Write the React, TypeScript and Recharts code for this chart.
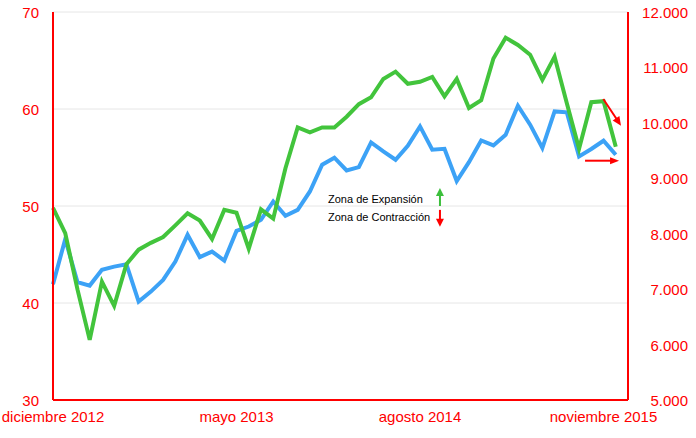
import React from 'react';
import { LineChart, Line, XAxis, YAxis, CartesianGrid, ReferenceLine, ReferenceDot } from 'recharts';

// Green series (left axis, 30-70)
const greenSeries = [
  49.8, 47.2, 41.4, 36.2, 42.2, 39.7, 44.0, 45.5, 46.2, 46.8, 48.0, 49.25, 48.5, 46.6, 49.6, 49.3,
  45.6, 49.65, 48.7, 53.9, 58.1, 57.6, 58.1, 58.1, 59.2, 60.5, 61.2, 63.1, 63.85, 62.6, 62.8, 63.3,
  61.3, 63.1, 60.1, 60.9, 65.2, 67.35, 66.6, 65.6, 63.0, 65.4, 60.6, 55.9, 60.7, 60.8, 56.1,
];

// Blue series (right axis, 5.000-12.000)
const blueSeries = [
  7090, 7900, 7127, 7064, 7348, 7407, 7450, 6775, 6956, 7167, 7498, 7980, 7577, 7678, 7516, 8050,
  8130, 8251, 8581, 8323, 8431, 8762, 9244, 9371, 9141, 9202, 9647, 9484, 9334, 9587, 9936, 9515,
  9533, 8950, 9290, 9683, 9593, 9786, 10310, 9967, 9546, 10207, 10189, 9394, 9528, 9677, 9425,
];

const xTickLabels = ['diciembre 2012', 'mayo 2013', 'agosto 2014', 'noviembre 2015'];
const xTickIndex = [0, 15, 30, 45];
const leftTicks = [30, 40, 50, 60, 70];
const rightTicks = [5000, 6000, 7000, 8000, 9000, 10000, 11000, 12000];

const zoneLabels = ['Zona de Expansión', 'Zona de Contracción'];
const zoneAnchor = { x: 22.48, y: 50 };
// annotation arrows in data units (left axis)
const upArrow = [{ x: 31.63, y: 50.0 }, { x: 31.63, y: 51.85 }];
const downArrow = [{ x: 31.63, y: 49.6 }, { x: 31.63, y: 47.85 }];
const endArrowDiag = [{ x: 44.98, y: 61.03 }, { x: 46.43, y: 58.28 }];
const endArrowFlat = [{ x: 43.49, y: 54.67 }, { x: 46.27, y: 54.67 }];

const data = greenSeries.map((g, i) => ({ i, green: g, blue: blueSeries[i] }));

const RED = '#ff0000';
const GREEN = '#42c43c';
const BLUE = '#3ca2f6';
const FONT = '"Liberation Sans", Arial, Helvetica, sans-serif';

const fmtThousands = (v: number) => {
  const s = String(Math.round(v));
  return s.replace(/\B(?=(\d{3})+(?!\d))/g, '.');
};

const LeftTick = (props: any) => {
  const { x, y, payload } = props;
  return (
    <text x={x - 14} y={y + 6} textAnchor="end" fill={RED} fontSize={15} fontFamily={FONT}>
      {payload.value}
    </text>
  );
};

const RightTick = (props: any) => {
  const { x, y, payload } = props;
  return (
    <text x={x + 60} y={y + 6} textAnchor="end" fill={RED} fontSize={15} fontFamily={FONT}>
      {fmtThousands(payload.value)}
    </text>
  );
};

const XTick = (props: any) => {
  const { x, y, payload } = props;
  const k = xTickIndex.indexOf(payload.value);
  return (
    <text x={x} y={y + 21.5} textAnchor="middle" fill={RED} fontSize={15} fontFamily={FONT}>
      {k >= 0 ? xTickLabels[k] : ''}
    </text>
  );
};

const makeArrow = (color: string, headLen: number, headW: number, sw: number) => (props: any) => {
  const { x1, y1, x2, y2 } = props;
  if ([x1, y1, x2, y2].some((v) => v === undefined || isNaN(v))) return null;
  const dx = x2 - x1;
  const dy = y2 - y1;
  const len = Math.sqrt(dx * dx + dy * dy) || 1;
  const ux = dx / len;
  const uy = dy / len;
  const bx = x2 - ux * headLen;
  const by = y2 - uy * headLen;
  const px = -uy * (headW / 2);
  const py = ux * (headW / 2);
  return (
    <g>
      <line x1={x1} y1={y1} x2={bx + ux * 1} y2={by + uy * 1} stroke={color} strokeWidth={sw} />
      <polygon points={`${x2},${y2} ${bx + px},${by + py} ${bx - px},${by - py}`} fill={color} />
    </g>
  );
};

const ZoneText = (props: any) => {
  const { cx, cy } = props;
  if (cx === undefined || cy === undefined) return null;
  return (
    <g>
      <text x={cx} y={cy - 3.5} fontSize={11} fontFamily={FONT} fill="#000">
        {zoneLabels[0]}
      </text>
      <text x={cx} y={cy + 14.5} fontSize={11} fontFamily={FONT} fill="#000">
        {zoneLabels[1]}
      </text>
    </g>
  );
};

export default function App() {
  return (
    <div style={{ position: 'absolute', left: 0, top: 0, width: 696, height: 438, background: '#fff' }}>
      <LineChart width={696} height={438} data={data} margin={{ top: 12, right: 0, bottom: 0, left: 0 }}>
        <CartesianGrid yAxisId="left" vertical={false} stroke="#e6e6e6" strokeWidth={1} />
        <XAxis
          dataKey="i"
          type="number"
          domain={[0, 47]}
          ticks={xTickIndex}
          interval={0}
          tick={XTick}
          tickLine={false}
          tickSize={0}
          tickMargin={0}
          axisLine={{ stroke: RED, strokeWidth: 2 }}
          height={38}
        />
        <YAxis
          yAxisId="left"
          domain={[30, 70]}
          ticks={leftTicks}
          interval={0}
          tick={LeftTick}
          tickLine={false}
          tickSize={0}
          tickMargin={0}
          axisLine={{ stroke: RED, strokeWidth: 2 }}
          width={53}
        />
        <YAxis
          yAxisId="right"
          orientation="right"
          domain={[5000, 12000]}
          ticks={rightTicks}
          interval={0}
          tick={RightTick}
          tickLine={false}
          tickSize={0}
          tickMargin={0}
          axisLine={{ stroke: RED, strokeWidth: 2 }}
          width={68}
        />
        <Line
          yAxisId="right"
          dataKey="blue"
          type="linear"
          stroke={BLUE}
          strokeWidth={4}
          dot={false}
          activeDot={false}
          isAnimationActive={false}
        />
        <Line
          yAxisId="left"
          dataKey="green"
          type="linear"
          stroke={GREEN}
          strokeWidth={4}
          dot={false}
          activeDot={false}
          isAnimationActive={false}
        />
        <ReferenceDot
          yAxisId="left"
          x={zoneAnchor.x}
          y={zoneAnchor.y}
          r={0}
          shape={ZoneText}
          ifOverflow="visible"
        />
        <ReferenceLine
          yAxisId="left"
          segment={upArrow}
          shape={makeArrow('#3cbf3c', 8, 8, 2)}
          ifOverflow="visible"
        />
        <ReferenceLine
          yAxisId="left"
          segment={downArrow}
          shape={makeArrow(RED, 8, 8, 2)}
          ifOverflow="visible"
        />
        <ReferenceLine
          yAxisId="left"
          segment={endArrowDiag}
          shape={makeArrow(RED, 9, 8, 2)}
          ifOverflow="visible"
        />
        <ReferenceLine
          yAxisId="left"
          segment={endArrowFlat}
          shape={makeArrow(RED, 9, 7, 2)}
          ifOverflow="visible"
        />
      </LineChart>
    </div>
  );
}
